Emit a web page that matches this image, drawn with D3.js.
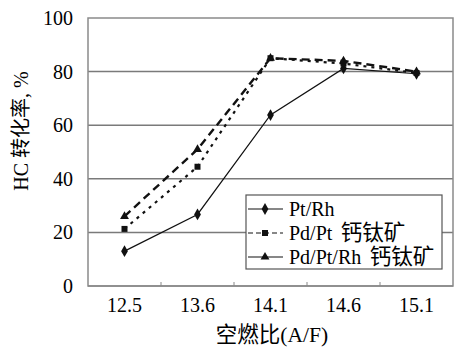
<!DOCTYPE html>
<html><head><meta charset="utf-8">
<script src="https://cdn.jsdelivr.net/npm/d3@7"></script>
<style>body{margin:0;background:#fff}svg{display:block}</style>
</head><body>
<svg id="c" width="455" height="348"></svg>
<script>
const categories = ["12.5","13.6","14.1","14.6","15.1"];
const yTicks = [0,20,40,60,80,100];
const seriesNames = ["Pt/Rh","Pd/Pt 钙钛矿","Pd/Pt/Rh 钙钛矿"];
const ptRh = [13, 26.7, 63.8, 81.2, 79.2];
const pdPt = [21.3, 44.5, 85, 83, 79.5];
const pdPtRh = [26, 51, 85, 84, 80];

const svg = d3.select("#c");
const L=88, R=453, T=18, B=286;
const font = "'Liberation Serif','DejaVu Serif',serif";
const cjk = "'Liberation Serif','Noto Sans CJK SC',serif";
const x = d3.scaleBand().domain(categories).range([L,R]);
const y = d3.scaleLinear().domain([0,100]).range([B,T]);

// gridlines
svg.append("g").selectAll("line").data(yTicks.filter(d=>d>0&&d<100)).join("line")
  .attr("x1",L).attr("x2",R).attr("y1",d=>y(d)).attr("y2",d=>y(d))
  .attr("stroke","#7a7a7a").attr("stroke-width",1.5);
// frame
svg.append("rect").attr("x",L).attr("y",T).attr("width",R-L).attr("height",B-T)
  .attr("fill","none").attr("stroke","#8a8a8a").attr("stroke-width",1.5);
svg.append("line").attr("x1",L).attr("x2",R).attr("y1",B).attr("y2",B).attr("stroke","#888").attr("stroke-width",1.5);

// y axis labels
const yAx = svg.append("g").attr("transform",`translate(${L},0)`)
  .call(d3.axisLeft(y).tickValues(yTicks).tickSize(0).tickPadding(15));
yAx.select(".domain").remove();
yAx.selectAll("text").attr("font-family",font).attr("font-size",20).attr("fill","#000");

// x axis
const xAx = svg.append("g").attr("transform",`translate(0,${B})`)
  .call(d3.axisBottom(x).tickSize(0).tickPadding(12));
xAx.select(".domain").remove();
xAx.selectAll("text").attr("font-family",font).attr("font-size",20).attr("fill","#000");
// inner ticks at band boundaries
svg.append("g").selectAll("line").data(categories.slice(1)).join("line")
  .attr("x1",d=>x(d)).attr("x2",d=>x(d)).attr("y1",B).attr("y2",B-4)
  .attr("stroke","#888").attr("stroke-width",1);

const cx = d=>x(d)+x.bandwidth()/2;
const line = vals => d3.line().x((v,i)=>cx(categories[i])).y(v=>y(v))(vals);

const styles = [
  {vals:ptRh, dash:null, w:1.2, sym:d3.symbolDiamond, size:40},
  {vals:pdPt, dash:"3,5", w:2.2, sym:d3.symbolSquare, size:36},
  {vals:pdPtRh, dash:"8,5", w:2.4, sym:d3.symbolTriangle, size:34}
];
styles.forEach(s=>{
  svg.append("path").attr("d",line(s.vals)).attr("fill","none")
    .attr("stroke","#111").attr("stroke-width",s.w)
    .attr("stroke-dasharray",s.dash);
  svg.append("g").selectAll("path").data(s.vals).join("path")
    .attr("d",d3.symbol(s.sym,s.size))
    .attr("transform",(v,i)=>`translate(${cx(categories[i])},${y(v)})`)
    .attr("fill","#111");
});

// legend
const lg = svg.append("g");
lg.append("rect").attr("x",246).attr("y",195).attr("width",196).attr("height",74)
  .attr("fill","#fff").attr("stroke","#555").attr("stroke-width",1.2);
const rows=[209,233,257];
const lsty=[{dash:null,w:1.2},{dash:"5,3",w:1.2},{dash:null,w:1.2}];
seriesNames.forEach((n,i)=>{
  lg.append("line").attr("x1",248).attr("x2",283).attr("y1",rows[i]).attr("y2",rows[i])
    .attr("stroke","#111").attr("stroke-width",lsty[i].w).attr("stroke-dasharray",lsty[i].dash);
  lg.append("path").attr("d",d3.symbol(styles[i].sym,styles[i].size)())
    .attr("transform",`translate(265,${rows[i]})`).attr("fill","#111");
  const parts = n.split(" ");
  const t = lg.append("text").attr("x",289).attr("y",rows[i]).attr("dy","0.35em")
    .attr("font-family",cjk).attr("font-size",20).attr("fill","#000");
  t.append("tspan").text(parts[0]);
  if (parts[1]) t.append("tspan").attr("font-size",21.5).attr("dx",3).text(" " + parts[1]);
});

// axis titles
svg.append("text").attr("transform","translate(21,131) rotate(-90)")
  .attr("text-anchor","middle").attr("dy","0.35em")
  .attr("font-family",cjk).attr("font-size",20).attr("fill","#000").text("HC 转化率, %");
svg.append("text").attr("x",272).attr("y",334).attr("text-anchor","middle").attr("dy","0.35em")
  .attr("font-family",cjk).attr("font-size",21.5).attr("fill","#000").text("空燃比(A/F)");
</script>
</body></html>
